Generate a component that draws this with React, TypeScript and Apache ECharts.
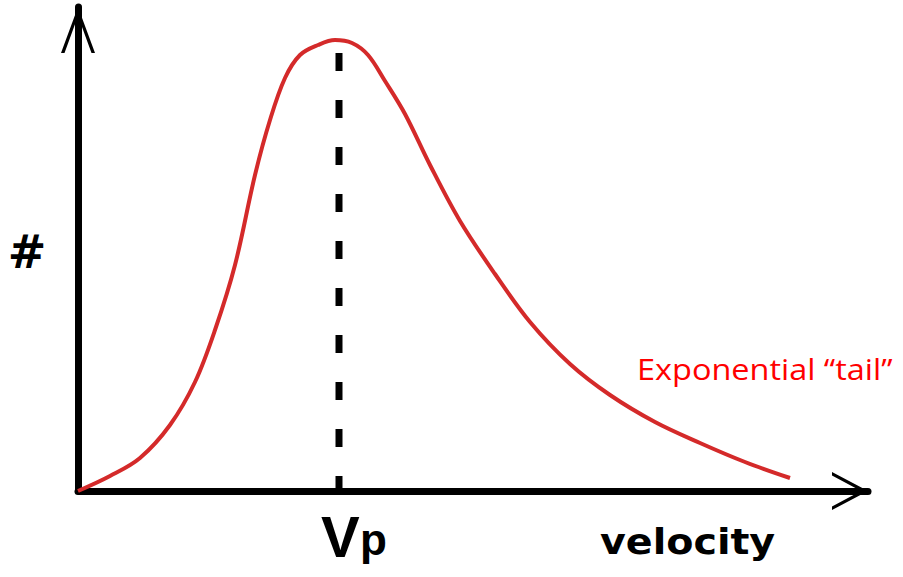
import React, { useEffect, useRef } from "react";
import * as echarts from "echarts";

// velocity (x) and count (#)
const velocity = [0, 32, 62, 92, 117, 137, 157, 177, 192, 207, 222, 240, 257, 274, 290, 307, 327, 352, 382, 417, 452, 492, 532, 577, 622, 667, 712];
const count = [0, 15, 33, 66, 109, 161, 226, 316, 371, 413, 436, 446, 451, 448, 436, 410, 377, 326, 270, 217, 169, 127, 96, 69, 48, 29, 13];

const peakVelocity = 261;
const peakMarkerTop = 438;
const xMax = 790;
const yMax = 484;

const xLabel = "velocity";
const yLabel = "#";
const peakLabelMain = "V";
const peakLabelSub = "p";
const tailLabel = "Exponential \u201Ctail\u201D";

const yArrow = "path://M0,46 L17,0 L34,46 L30.5,46 L17,9 L3.5,46 Z";
const xArrow = "path://M0,36 L19,0 L38,36 L34.5,36 L19,7 L3.5,36 Z";

export default function App() {
  const ref = useRef<HTMLDivElement>(null);
  useEffect(() => {
    if (!ref.current) return;
    const chart = echarts.init(ref.current, null, { renderer: "svg" });
    const curve = velocity.map((v, i) => [v, count[i]]);
    chart.setOption({
      animation: false,
      backgroundColor: "#ffffff",
      grid: { left: 78, right: 35, top: 7, bottom: 86 },
      xAxis: {
        type: "value",
        min: 0,
        max: xMax,
        splitLine: { show: false },
        axisTick: { show: false },
        axisLabel: { show: false },
        axisLine: {
          show: true,
          lineStyle: { color: "#000", width: 7 },
          symbol: ["none", xArrow],
          symbolSize: [38, 36],
          symbolOffset: [0, -18],
        },
      },
      yAxis: {
        type: "value",
        min: 0,
        max: yMax,
        splitLine: { show: false },
        axisTick: { show: false },
        axisLabel: { show: false },
        axisLine: {
          show: true,
          lineStyle: { color: "#000", width: 7 },
          symbol: ["none", yArrow],
          symbolSize: [34, 46],
          symbolOffset: [0, -23],
        },
      },
      series: [
        {
          type: "line",
          data: [
            [peakVelocity, peakMarkerTop],
            [peakVelocity, 0],
          ],
          symbol: "none",
          lineStyle: { color: "#000", width: 7, type: [18, 29], cap: "butt" },
          silent: true,
          z: 3,
        },
        {
          type: "line",
          data: curve,
          smooth: 0.35,
          symbol: "none",
          lineStyle: { color: "#d42a2a", width: 4 },
          silent: true,
          z: 4,
        },
      ],
      graphic: [
        {
          type: "text",
          x: 27,
          y: 252,
          style: {
            text: yLabel,
            font: "bold 46px 'DejaVu Sans', sans-serif",
            fill: "#000",
            textAlign: "center",
            align: "center",
            textVerticalAlign: "middle",
            verticalAlign: "middle",
          },
        },
        {
          type: "text",
          x: 321,
          y: 536,
          style: {
            text: peakLabelMain,
            font: "bold 58px 'Liberation Sans', Arial, sans-serif",
            fill: "#000",
            textAlign: "left",
            align: "left",
            textVerticalAlign: "middle",
            verticalAlign: "middle",
          },
        },
        {
          type: "text",
          x: 360,
          y: 539,
          style: {
            text: peakLabelSub,
            font: "bold 44px 'Liberation Sans', Arial, sans-serif",
            fill: "#000",
            textAlign: "left",
            align: "left",
            textVerticalAlign: "middle",
            verticalAlign: "middle",
          },
        },
        {
          type: "text",
          x: 600,
          y: 542,
          scaleX: 1.1,
          style: {
            text: xLabel,
            font: "bold 36px 'DejaVu Sans', sans-serif",
            fill: "#000",
            textAlign: "left",
            align: "left",
            textVerticalAlign: "middle",
            verticalAlign: "middle",
          },
        },
        {
          type: "text",
          x: 637,
          y: 369,
          scaleX: 1.12,
          style: {
            text: tailLabel,
            font: "29px 'Open Sans', sans-serif",
            fill: "#ff0000",
            textAlign: "left",
            align: "left",
            textVerticalAlign: "middle",
            verticalAlign: "middle",
          },
        },
      ],
    });
    return () => chart.dispose();
  }, []);
  return (
    <div
      ref={ref}
      style={{ position: "fixed", left: 0, top: 0, width: 903, height: 577, background: "#fff" }}
    />
  );
}
